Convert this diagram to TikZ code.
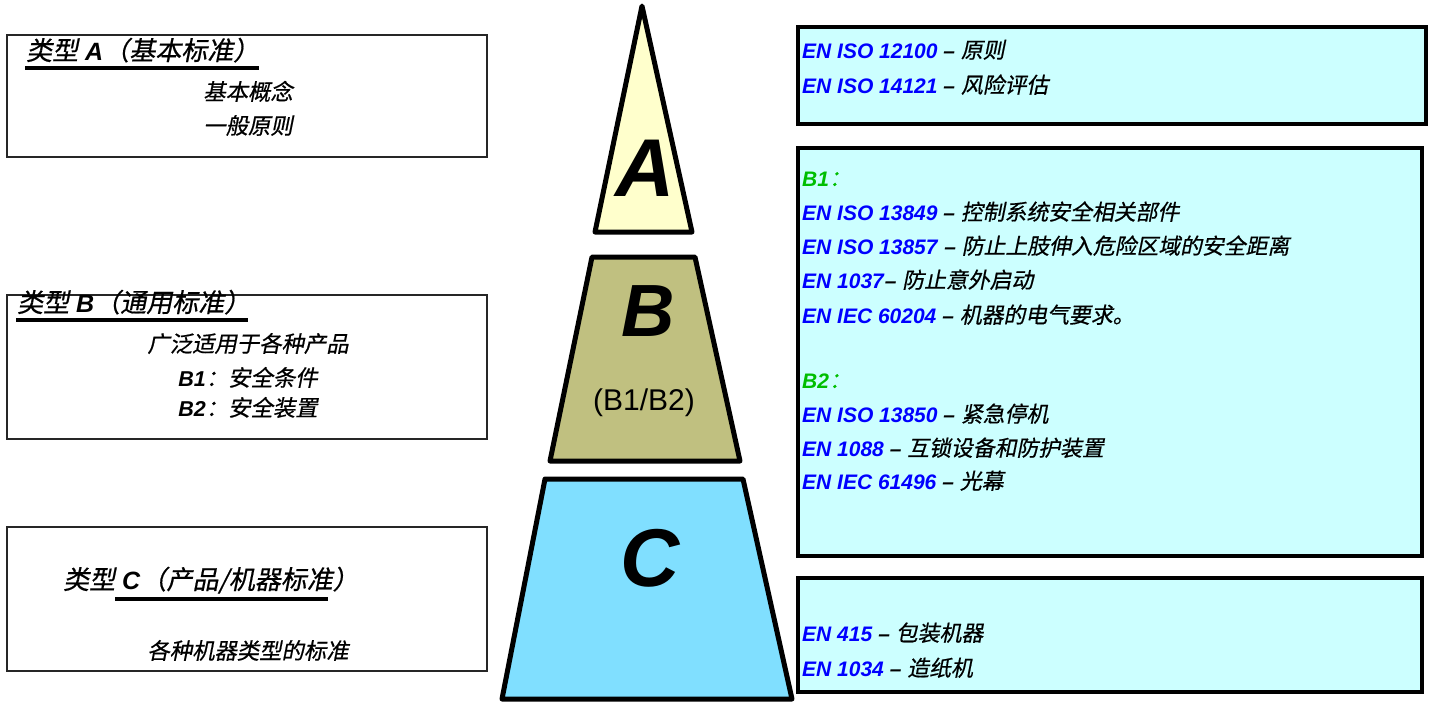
\documentclass[tikz,border=0pt]{standalone}
\usepackage{fontspec}
\setmainfont{Liberation Sans}
\newfontfamily\cjk[FakeSlant=0.2,FakeBold=0.6,Scale=1.04]{Noto Sans CJK SC}
\newcommand\zh[1]{{\cjk #1}}
\newcommand\en[1]{\textbf{\textit{#1}}}
\definecolor{enblue}{RGB}{0,0,255}
\definecolor{bgreen}{RGB}{0,190,0}
\definecolor{afill}{RGB}{255,255,204}
\definecolor{bfill}{RGB}{192,192,128}
\definecolor{cfill}{RGB}{128,223,255}
\definecolor{rfill}{RGB}{204,255,255}
\newcommand\std[1]{\textcolor{enblue}{\en{#1}}}
\begin{document}
\begin{tikzpicture}[x=1pt,y=-1pt,
  lbox/.style={draw=black!85,line width=1.4pt},
  rbox/.style={draw=black,line width=4pt,fill=rfill},
  pyr/.style={draw=black,line width=5pt,line join=round},
  rline/.style={font=\fontsize{21}{25}\selectfont,inner sep=0pt,anchor=base west},
  ltitle/.style={font=\fontsize{25}{28}\selectfont,inner sep=0pt,anchor=base west},
  lline/.style={font=\fontsize{21.5}{26}\selectfont,inner sep=0pt,anchor=base},
  ul/.style={line width=3.2pt},
  big/.style={font=\fontsize{82}{90}\selectfont\bfseries\itshape,inner sep=0pt}]
\useasboundingbox (0,0) rectangle (1434,702);
% left boxes
\draw[lbox] (7,35) rectangle (487,157);
\draw[lbox] (7,295) rectangle (487,439);
\draw[lbox] (7,527) rectangle (487,671);
\node[ltitle] (ta) at (26,60) {\zh{类型} \en{A}\zh{（基本标准）}};
\draw[ul] (25,68) -- (259,68);
\node[lline] (a1) at (248,100) {\zh{基本概念}};
\node[lline] (a2) at (248,134) {\zh{一般原则}};
\node[ltitle] (tb) at (17,312) {\zh{类型} \en{B}\zh{（通用标准）}};
\draw[ul] (16,320) -- (248,320);
\node[lline] (b1) at (248,352) {\zh{广泛适用于各种产品}};
\node[lline] (b2) at (248,386) {\en{B1}\zh{：安全条件}};
\node[lline] (b3) at (248,416) {\en{B2}\zh{：安全装置}};
\node[ltitle] (tc) at (63,589) {\zh{类型} \en{C}\zh{（产品/机器标准）}};
\draw[ul] (115,599) -- (328,599);
\node[lline] (c1) at (248,659) {\zh{各种机器类型的标准}};
% pyramid
\draw[pyr,fill=afill] (642,6) -- (692,232) -- (595,232) -- cycle;
\draw[pyr,fill=bfill] (592,257) -- (695,257) -- (740,461) -- (550,461) -- cycle;
\draw[pyr,fill=cfill] (545,479) -- (743,479) -- (792,699) -- (502,699) -- cycle;
\node[big] (la) at (645,168) {A};
\node[big,font=\fontsize{74}{80}\selectfont\bfseries\itshape] (lb) at (648,311) {B};
\node[big] (lc) at (650,558) {C};
\node[font=\fontsize{30}{34}\selectfont,inner sep=0pt] (lb12) at (644,403) {(B1/B2)};
% right boxes
\draw[rbox] (798,27) rectangle (1426,124);
\draw[rbox] (798,148) rectangle (1422,556);
\draw[rbox] (798,578) rectangle (1422,692);
\node[rline] (r1) at (802,58) {\std{EN ISO 12100} \en{–} \zh{原则}};
\node[rline] (r2) at (802,93) {\std{EN ISO 14121} \en{–} \zh{风险评估}};
\node[rline] (s1) at (802,186) {\textcolor{bgreen}{\en{B1}\zh{：}}};
\node[rline] (s2) at (802,220) {\std{EN ISO 13849} \en{–} \zh{控制系统安全相关部件}};
\node[rline] (s3) at (802,254) {\std{EN ISO 13857} \en{–} \zh{防止上肢伸入危险区域的安全距离}};
\node[rline] (s4) at (802,288) {\std{EN 1037}\en{–} \zh{防止意外启动}};
\node[rline] (s5) at (802,323) {\std{EN IEC 60204} \en{–} \zh{机器的电气要求。}};
\node[rline] (s6) at (802,388) {\textcolor{bgreen}{\en{B2}\zh{：}}};
\node[rline] (s7) at (802,422) {\std{EN ISO 13850} \en{–} \zh{紧急停机}};
\node[rline] (s8) at (802,456) {\std{EN 1088} \en{–} \zh{互锁设备和防护装置}};
\node[rline] (s9) at (802,489) {\std{EN IEC 61496} \en{–} \zh{光幕}};
\node[rline] (t1) at (802,641) {\std{EN 415} \en{–} \zh{包装机器}};
\node[rline] (t2) at (802,676) {\std{EN 1034} \en{–} \zh{造纸机}};
\end{tikzpicture}
\end{document}
